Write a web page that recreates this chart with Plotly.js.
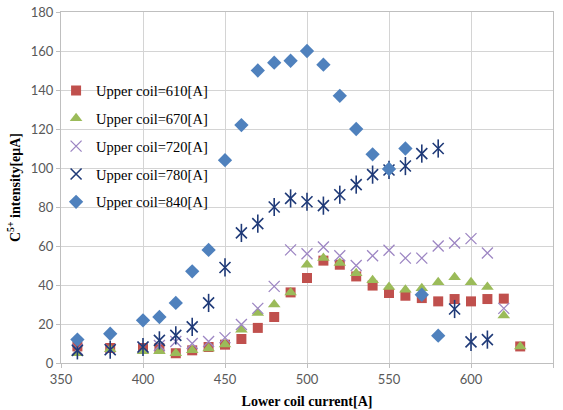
<!DOCTYPE html>
<html>
<head>
<meta charset="utf-8">
<script src="https://cdn.plot.ly/plotly-3.0.1.min.js"></script>
<style>html,body{margin:0;padding:0;background:#fff;}#chart{width:563px;height:410px;}</style>
</head>
<body>
<div id="chart"></div>
<script>
// Lower coil current [A]
const x610 = [360,380,400,410,420,430,440,450,460,470,480,490,500,510,520,530,540,550,560,570,580,590,600,610,620,630];
const y610 = [8.5,7.7,7.7,7.7,5,6.5,8.2,9.4,12.3,18,23.6,36.2,43.6,52.5,50.4,44.4,39.7,35.9,34.5,33.3,31.6,32.8,31.6,32.8,33,8.5];

const x670 = [360,380,400,410,420,430,440,450,460,470,480,490,500,510,520,530,540,550,560,570,580,590,600,610,620,630];
const y670 = [5,7,6,6,5,6.5,7.5,9.5,17,25.6,30,36.2,50.4,53.8,51.3,46,42.4,39,37.6,38.3,41.4,44,41.4,39,24.3,8.5];

const x720 = [360,380,400,410,420,430,440,450,460,470,480,490,500,510,520,530,540,550,560,570,580,590,600,610,620];
const y720 = [7,7,8,9,11,10,11,13,19.7,28,39.3,58,56,59.5,55,50,55,57.8,53.8,53.8,60,61.5,63.8,56.4,28];

const x780 = [360,380,400,410,420,430,440,450,460,470,480,490,500,510,520,530,540,550,560,570,580,590,600,610];
const y780 = [6.5,6.8,8.2,11.6,14.2,18.5,30.8,49,66.7,71.5,80,84.4,82.7,80.7,86.3,91.5,96.6,99,101,107.4,110,27.7,10.8,12];

const x840 = [360,380,400,410,420,430,440,450,460,470,480,490,500,510,520,530,540,550,560,570,580];
const y840 = [12,15,21.9,23.6,30.8,47,58,104,122,150,154,155,160,153,137,120,107,99.5,110,35,14];

const seriesNames = ['Upper coil=610[A]','Upper coil=670[A]','Upper coil=720[A]','Upper coil=780[A]','Upper coil=840[A]'];
const xTicks = [350,400,450,500,550,600,650];
const yTicks = [0,20,40,60,80,100,120,140,160,180];

const traces = [
  {x:x610, y:y610, name:seriesNames[0], legendgroup:'a', mode:'markers', type:'scatter',
   marker:{symbol:'square', size:10, color:'#C0504D'}},
  {x:x670, y:y670, name:seriesNames[1], legendgroup:'b', mode:'markers', type:'scatter',
   marker:{symbol:'triangle-up', size:11, color:'#9BBB59'}},
  {x:x720, y:y720, name:seriesNames[2], legendgroup:'c', mode:'markers', type:'scatter',
   marker:{symbol:'x-thin-open', size:11, color:'#9D86C3', line:{width:1.3, color:'#9D86C3'}}},
  {x:x780, y:y780, name:seriesNames[3], legendgroup:'d', mode:'markers', type:'scatter',
   marker:{symbol:'x-thin-open', size:11, color:'#1F3A78', line:{width:1.6, color:'#1F3A78'}}},
  {x:x780, y:y780, name:seriesNames[3], legendgroup:'d', showlegend:false, mode:'markers', type:'scatter',
   marker:{symbol:'line-ns-open', size:13, color:'#1F3A78', line:{width:1.6, color:'#1F3A78'}}},
  {x:x840, y:y840, name:seriesNames[4], legendgroup:'e', mode:'markers', type:'scatter',
   marker:{symbol:'diamond', size:11, color:'#4F81BD'}}
];

const layout = {
  width:563, height:410,
  margin:{l:61, r:10, t:12, b:47, pad:0},
  paper_bgcolor:'#ffffff', plot_bgcolor:'#ffffff',
  showlegend:true,
  legend:{x:-0.01, xanchor:'left', y:0.822, yanchor:'top', bgcolor:'rgba(0,0,0,0)',
    font:{family:'Liberation Serif', size:14.5, color:'#000'}, tracegroupgap:6, itemwidth:30},
  xaxis:{range:[350,650], tickvals:xTicks, ticktext:xTicks.map(String), showgrid:true, gridcolor:'#D4D4D4', gridwidth:1,
    zeroline:false, showline:true, linecolor:'#BFBFBF', linewidth:1, mirror:true,
    ticks:'outside', ticklen:4, tickcolor:'#BFBFBF',
    tickfont:{family:'Lato', size:13, color:'#595959'},
    title:{text:'<b>Lower coil current[A]</b>', font:{family:'Liberation Serif', size:14, color:'#000'}, standoff:10}},
  yaxis:{range:[0,180], tickvals:yTicks, ticktext:yTicks.map(String), showgrid:true, gridcolor:'#D4D4D4', gridwidth:1,
    zeroline:false, showline:true, linecolor:'#BFBFBF', linewidth:1, mirror:true,
    ticks:'outside', ticklen:4, tickcolor:'#BFBFBF',
    tickfont:{family:'Lato', size:13, color:'#595959'},
    title:{text:'<b>C<sup>5+</sup> intensity[eμA]</b>', font:{family:'Liberation Serif', size:14, color:'#000'}, standoff:6}}
};

Plotly.newPlot('chart', traces, layout, {displayModeBar:false, staticPlot:true});
</script>
</body>
</html>
